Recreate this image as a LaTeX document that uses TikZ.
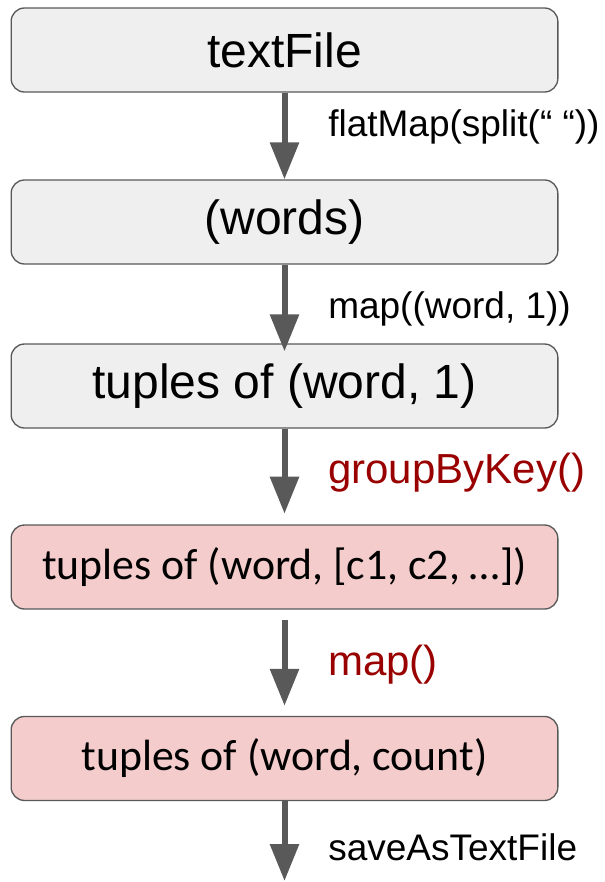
\documentclass[tikz,border=0pt]{standalone}
\usepackage{fontspec}
\setmainfont{Liberation Sans}
\newfontfamily\calibrifont{Carlito}
\usepackage{xcolor}
\usetikzlibrary{arrows.meta,positioning}
\definecolor{stageGray}{HTML}{EFEFEF}
\definecolor{stagePink}{HTML}{F4CCCC}
\definecolor{edgeGray}{HTML}{595959}
\definecolor{opRed}{HTML}{990000}

\begin{document}
\begin{tikzpicture}[
    x=0.75pt, y=-0.75pt,
    stagebox/.style={
        rectangle,
        rounded corners=10pt,
        draw=edgeGray,
        line width=1pt,
        fill=stageGray,
        minimum width=410pt,
        minimum height=63pt,
        inner sep=0pt,
        font=\fontsize{36}{40}\selectfont
    },
    shufflebox/.style={
        stagebox,
        fill=stagePink,
        font=\calibrifont\fontsize{32.8}{38}\selectfont
    },
    flow/.style={
        -{Triangle[length=27.75pt,width=21pt]},
        line width=4.5pt,
        draw=edgeGray
    },
    oplabel/.style={
        anchor=base west,
        inner sep=0pt,
        font=\fontsize{27.75}{32}\selectfont
    },
    widelabel/.style={
        oplabel,
        text=opRed,
        font=\fontsize{31.5}{36}\selectfont
    }
]

\useasboundingbox (0,0) rectangle (604,882);

% -------------------- Stages -------------------------
\node[stagebox] (text) at (284.5,50) {textFile};
\node[stagebox, below=65pt of text] (words) {(words)};
\node[stagebox, below=59pt of words] (pairs) {tuples of (word, 1)};
\node[shufflebox, below=71.75pt of pairs] (grouped) {tuples of (word, [c1, c2, …])};
\node[shufflebox, below=79.6pt of grouped] (counts) {tuples of (word, count)};
\coordinate (out) at (284.5,881);

% -------------------- Operations ---------------------
\node[oplabel] (flatlbl) at (328,136) {flatMap(split(“ “))};
\node[oplabel] (maplbl) at (328,318) {map((word, 1))};
\node[widelabel] (grouplbl) at (328,483) {groupByKey()};
\node[widelabel] (countlbl) at (328,675) {map()};
\node[oplabel] (savelbl) at (328,860) {saveAsTextFile};

% -------------------- Flows --------------------------
\draw[flow] (text.south) -- (words.north);
\draw[flow, shorten >=-6pt] (words.south) -- (pairs.north);
\draw[flow, shorten >=8pt] (pairs.south) -- (grouped.north);
\draw[flow, shorten <=8pt, shorten >=7.5pt] (grouped.south) -- (counts.north);
\draw[flow] (counts.south) -- (out);

\end{tikzpicture}
\end{document}
